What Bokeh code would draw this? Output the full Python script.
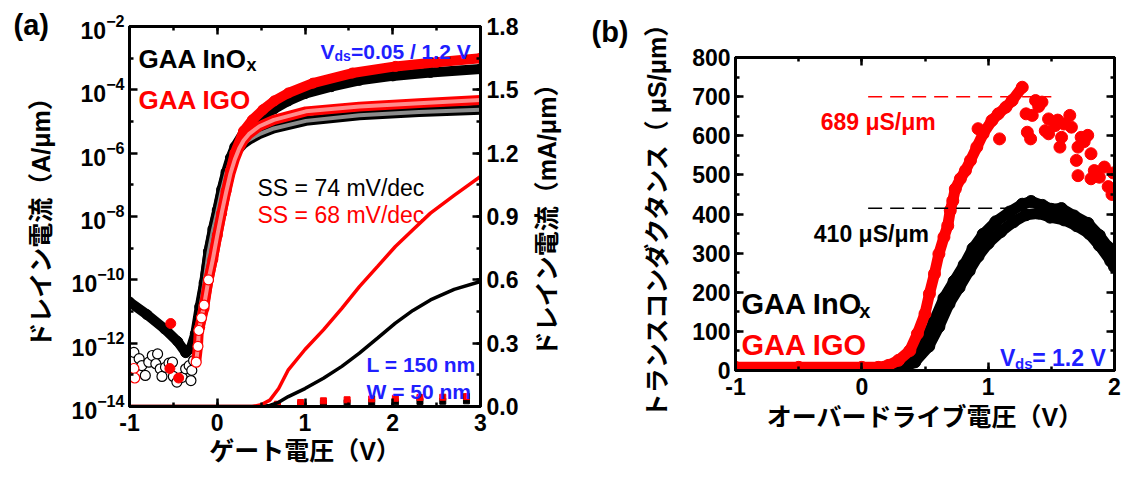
import math
from bokeh.plotting import figure
from bokeh.models import (Range1d, LinearAxis, FixedTicker, SingleIntervalTicker, Label,
                          PrintfTickFormatter, LinearScale, CustomJSTickFormatter)
from bokeh.layouts import row
from bokeh.embed import file_html
from bokeh.resources import INLINE

LAT = "Liberation Sans"
TITLE_FONT = "Liberation Sans, Noto Sans CJK JP"
RED = "#ff0000"
BLUE = "#1f1fff"

# ---------------- panel (a): transfer curves ----------------
# log10 of drain current (A/um) vs gate voltage (V)
# GAA IGO, Vds = 1.2 V (filled red)
vg_igo_hi = [-0.2, -0.15, -0.1, -0.05, 0.0, 0.05, 0.1, 0.15, 0.2, 0.3, 0.4, 0.52, 0.65, 0.81, 1.09, 1.54, 2.03, 2.5, 3.0]
lg_igo_hi = [-11.5, -10.9, -10.0, -9.35, -8.6, -7.9, -7.2, -6.55, -6.0, -5.3, -4.95, -4.63, -4.35, -4.1, -3.79, -3.47, -3.26, -3.13, -3.0]
vg_igo_hi_noise = [-0.54, -0.53, -0.44]
lg_igo_hi_noise = [-12.8, -11.38, -13.1]
# GAA InOx, Vds = 1.2 V (filled black)
vg_inox_hi = [-1.0, -0.8, -0.6, -0.45, -0.36, -0.3, -0.25, -0.2, -0.15, -0.1, -0.05, 0.0, 0.05, 0.1, 0.15, 0.2,
              0.3, 0.4, 0.52, 0.65, 0.81, 1.0, 1.3, 1.62, 2.0, 2.43, 3.0]
lg_inox_hi = [-10.7, -11.1, -11.55, -11.95, -12.3, -12.15, -11.7, -10.85, -10.1, -9.1, -8.4, -7.8, -7.15, -6.6, -6.15,
              -5.8, -5.35, -5.05, -4.8, -4.6, -4.35, -4.12, -3.9, -3.7, -3.56, -3.45, -3.34]
# GAA IGO, Vds = 0.05 V (open red)
vg_igo_lo = [-0.24, -0.22, -0.21, -0.18, -0.15, -0.1, -0.05, 0.0, 0.05, 0.1, 0.15, 0.2, 0.25, 0.3, 0.36, 0.48,
             0.645, 1.01, 1.62, 2.3, 3.0]
lg_igo_lo = [-12.6, -12.1, -11.6, -11.2, -10.8, -10.0, -9.35, -8.6, -7.9, -7.25, -6.65, -6.2, -5.85, -5.6, -5.4,
             -5.15, -4.95, -4.68, -4.53, -4.42, -4.32]
vg_igo_lo_noise = [-0.95, -0.94]
lg_igo_lo_noise = [-12.8, -13.1]
# GAA InOx, Vds = 0.05 V (open black)
vg_inox_lo = [-0.25, -0.2, -0.15, -0.1, -0.05, 0.0, 0.05, 0.1, 0.15, 0.2, 0.25, 0.3, 0.36, 0.48, 0.645, 1.01,
              1.62, 2.3, 3.0]
lg_inox_lo = [-12.2, -11.0, -10.15, -9.15, -8.45, -7.85, -7.2, -6.65, -6.25, -5.95, -5.85, -5.7, -5.58, -5.4,
              -5.22, -4.98, -4.8, -4.7, -4.63]
vg_inox_lo_noise = [-0.95, -0.89, -0.86, -0.82, -0.78, -0.74, -0.68, -0.70, -0.65, -0.63, -0.59, -0.55, -0.51,
                    -0.50, -0.46, -0.40, -0.36, -0.32, -0.30, -0.29, -0.27]
lg_inox_lo_noise = [-12.29, -12.49, -12.71, -13.02, -12.6, -12.39, -12.34, -12.65, -12.81, -13.05, -12.76, -12.63,
                    -12.6, -13.05, -13.23, -13.08, -12.81, -12.71, -13.18, -12.86, -12.55]

# linear drain current (mA/um), right axis
vg_lin_igo = [-1.0, 0.4, 0.5, 0.6, 0.7, 0.81, 1.0, 1.21, 1.42, 1.62, 1.83, 2.03, 2.23, 2.43, 2.7, 3.0]
id_lin_igo = [0.0, 0.0, 0.008, 0.03, 0.085, 0.174, 0.27, 0.363, 0.465, 0.568, 0.665, 0.758, 0.837, 0.916, 1.0, 1.09]
vg_lin_inox = [-1.0, 0.5, 0.6, 0.7, 0.81, 1.0, 1.21, 1.42, 1.62, 1.83, 2.03, 2.23, 2.43, 2.7, 3.0]
id_lin_inox = [0.0, 0.0, 0.005, 0.02, 0.047, 0.085, 0.134, 0.19, 0.253, 0.325, 0.395, 0.455, 0.505, 0.555, 0.592]
vg_lin_lo = [0.685, 0.95, 1.21, 1.48, 1.76, 2.03, 2.31, 2.57, 2.84]
id_lin_lo_igo = [0.011, 0.019, 0.027, 0.032, 0.036, 0.039, 0.043, 0.044, 0.047]
id_lin_lo_inox = [0.006, 0.010, 0.015, 0.018, 0.020, 0.022, 0.024, 0.025, 0.027]

log_major_exps = [-14, -12, -10, -8, -6, -4, -2]
log_minor_exps = [-13, -11, -9, -7, -5, -3]

# ---------------- panel (b): transconductance ----------------
vov_igo = [-1.0, -0.5, 0.0, 0.13, 0.21, 0.29, 0.38, 0.44, 0.50, 0.535, 0.575, 0.61, 0.65, 0.68, 0.70, 0.72,
           0.74, 0.78, 0.82, 0.86, 0.91, 0.96, 1.03, 1.08, 1.14, 1.19, 1.27]
gm_igo = [8, 8, 8, 8, 13, 26, 51, 94, 145, 196, 247, 298, 341, 370, 409, 434, 464, 490, 511, 537, 571, 605,
          639, 656, 673, 690, 724]
vov_igo_sc = [0.92, 1.09, 1.30, 1.31, 1.336, 1.349, 1.375, 1.40, 1.426, 1.452, 1.478, 1.478, 1.53, 1.55, 1.568,
              1.581, 1.60, 1.646, 1.659, 1.698, 1.711, 1.711, 1.736, 1.76, 1.788, 1.814, 1.814, 1.84, 1.88, 1.92,
              1.95, 1.98, 1.99]
gm_igo_sc = [618, 592, 656, 609, 592, 652, 690, 675, 686, 613, 643, 605, 626, 640, 571, 596, 630, 652, 622, 537,
             571, 498, 596, 585, 601, 554, 490, 511, 494, 520, 470, 450, 505]
vov_inox_a = [0.26, 0.39, 0.50, 0.57, 0.65, 0.73, 0.81, 0.88, 0.96, 1.06, 1.17, 1.27, 1.34, 1.43, 1.50, 1.58,
              1.68, 1.79, 1.88, 1.95, 2.0]
gm_inox_a = [0, 30, 75, 125, 185, 228, 270, 312, 348, 380, 405, 425, 432, 422, 412, 414, 395, 376, 345, 315, 300]
vov_inox_b = [0.29, 0.42, 0.53, 0.61, 0.69, 0.77, 0.85, 0.92, 1.0, 1.1, 1.2, 1.3, 1.4, 1.49, 1.6, 1.7, 1.8,
              1.88, 1.97, 2.0]
gm_inox_b = [0, 22, 62, 112, 170, 212, 255, 292, 325, 355, 380, 398, 402, 392, 385, 370, 350, 320, 280, 265]
peak_line_igo_x = [0.05, 1.5]
peak_line_igo_y = [700, 700]
peak_line_inox_x = [0.05, 1.25]
peak_line_inox_y = [415, 415]


def style_axis(ax, tick_size="23px"):
    ax.major_label_text_font = LAT
    ax.major_label_text_font_size = tick_size
    ax.major_label_text_font_style = "bold"
    ax.major_label_text_color = "black"
    ax.axis_line_width = 3
    ax.axis_line_color = "black"
    ax.major_tick_line_width = 2.5
    ax.minor_tick_line_width = 2.5
    ax.major_tick_line_color = "black"
    ax.minor_tick_line_color = "black"
    ax.major_tick_in = 8
    ax.major_tick_out = 0
    ax.minor_tick_in = 4
    ax.minor_tick_out = 0
    ax.axis_label_text_font = TITLE_FONT
    ax.axis_label_text_font_size = "25px"
    ax.axis_label_text_font_style = "bold"
    ax.axis_label_text_color = "black"


def hide_labels(ax):
    ax.formatter = CustomJSTickFormatter(code="return ''")
    ax.major_label_text_font_size = "1px"
    ax.major_label_text_alpha = 0
    ax.major_label_standoff = 0
    ax.axis_label = None


def txt(p, x, y, text, size, color="black", bold=True, font=LAT, rng=None):
    kw = {}
    if rng is not None:
        kw["y_range_name"] = rng
    p.add_layout(Label(x=x, y=y, text=text, text_font=font, text_font_size=f"{size}px", text_color=color,
                       text_font_style="bold" if bold else "normal",
                       text_align="left", text_baseline="alphabetic", **kw))


def panel_tag(p, text, offset, standoff):
    p.title.text = text
    p.title.align = "left"
    p.title.offset = offset
    p.title.standoff = standoff
    p.title.text_font = LAT
    p.title.text_font_size = "29px"
    p.title.text_font_style = "bold"
    p.title.text_color = "black"


# ================= figure (a) =================
pa = figure(width=529, height=478, x_range=Range1d(-1, 3), y_range=Range1d(1e-14, 1e-2),
            y_axis_type="log", output_backend="svg", toolbar_location=None,
            min_border_left=129, min_border_right=49, min_border_top=26, min_border_bottom=72)
pa.extra_y_ranges = {"lin": Range1d(0, 1.8)}
pa.extra_y_scales = {"lin": LinearScale()}
pa.grid.visible = False
pa.outline_line_color = "black"
pa.outline_line_width = 3
pa.outline_line_alpha = 1.0

pa.xaxis.ticker = SingleIntervalTicker(interval=1, num_minor_ticks=2)
pa.xaxis.formatter = PrintfTickFormatter(format="%d")
pa.yaxis.ticker = FixedTicker(ticks=[10.0 ** e for e in log_major_exps],
                              minor_ticks=[10.0 ** e for e in log_minor_exps])
pa.xaxis.axis_label = "ゲート電圧（V）"
pa.yaxis.axis_label = "ドレイン電流（A/μm）"
for ax in pa.xaxis + pa.yaxis:
    style_axis(ax)
pa.yaxis.major_label_standoff = 5
pa.yaxis.axis_label_standoff = 14
pa.xaxis.major_label_standoff = 7
pa.xaxis.axis_label_standoff = 3

ra = LinearAxis(y_range_name="lin", ticker=SingleIntervalTicker(interval=0.3, num_minor_ticks=2),
                formatter=PrintfTickFormatter(format="%.1f"))
style_axis(ra)
ra.major_label_standoff = 6
pa.add_layout(ra, "right")

ta = LinearAxis(ticker=SingleIntervalTicker(interval=1, num_minor_ticks=2))
style_axis(ta)
hide_labels(ta)
pa.add_layout(ta, "above")
panel_tag(pa, "(a)", -116, -28)

pw = lambda arr: [10.0 ** v for v in arr]

# filled black (InOx, 1.2 V)
pa.line(vg_inox_hi, pw(lg_inox_hi), line_color="black", line_width=10, line_join="round", line_cap="round")
pa.scatter(vg_inox_hi, pw(lg_inox_hi), marker="circle", size=10, color="black")
# open black (InOx, 0.05 V)
pa.scatter(vg_inox_lo_noise, pw(lg_inox_lo_noise), marker="circle", size=10, fill_color="white",
           line_color="black", line_width=1.2)
pa.line(vg_inox_lo, pw(lg_inox_lo), line_color="black", line_width=10, line_join="round", line_cap="round")
pa.line(vg_inox_lo, pw(lg_inox_lo), line_color="white", line_width=4, line_alpha=0.55, line_join="round")
# filled red (IGO, 1.2 V)
pa.scatter(vg_igo_hi_noise, pw(lg_igo_hi_noise), marker="circle", size=10, color=RED)
pa.line(vg_igo_hi, pw(lg_igo_hi), line_color=RED, line_width=10, line_join="round", line_cap="round")
pa.scatter(vg_igo_hi, pw(lg_igo_hi), marker="circle", size=10, color=RED)
# open red (IGO, 0.05 V)
pa.scatter(vg_igo_lo_noise, pw(lg_igo_lo_noise), marker="circle", size=10, fill_color="white",
           line_color=RED, line_width=1.2)
pa.line(vg_igo_lo, pw(lg_igo_lo), line_color=RED, line_width=10, line_join="round", line_cap="round")
pa.line(vg_igo_lo, pw(lg_igo_lo), line_color="white", line_width=4, line_alpha=0.55, line_join="round")
pa.scatter(vg_igo_lo[:6], pw(lg_igo_lo[:6]), marker="circle", size=10, fill_color="white",
           line_color=RED, line_width=1.2)

# linear curves (right axis)
pa.scatter(vg_lin_lo, id_lin_lo_inox, y_range_name="lin", marker="square", size=6, color="black")
pa.scatter(vg_lin_lo, id_lin_lo_igo, y_range_name="lin", marker="square", size=6, color=RED)
pa.line(vg_lin_inox, id_lin_inox, y_range_name="lin", line_color="black", line_width=3.5)
pa.line(vg_lin_igo, id_lin_igo, y_range_name="lin", line_color=RED, line_width=3.5)

# annotations (a)
txt(pa, -0.897, 1.648, "GAA InO", 26, rng="lin")
txt(pa, 0.333, 1.620, "x", 18, rng="lin")
txt(pa, -0.897, 1.454, "GAA IGO", 26, color=RED, rng="lin")
txt(pa, 1.177, 1.682, "V", 21, color=BLUE, rng="lin")
txt(pa, 1.336, 1.658, "ds", 14, color=BLUE, rng="lin")
txt(pa, 1.524, 1.682, "=0.05 / 1.2 V", 21, color=BLUE, rng="lin")
txt(pa, 0.459, 1.033, "SS = 74 mV/dec", 23, bold=False, rng="lin")
txt(pa, 0.459, 0.909, "SS = 68 mV/dec", 23, color=RED, bold=False, rng="lin")
txt(pa, 1.701, 0.199, "L = 150 nm", 21, color=BLUE, rng="lin")
txt(pa, 1.701, 0.071, "W = 50 nm", 21, color=BLUE, rng="lin")

# ================= figure (b) =================
pb = figure(width=598, height=478, x_range=Range1d(-1, 2), y_range=Range1d(0, 800),
            output_backend="svg", toolbar_location=None,
            min_border_left=198, min_border_right=13, min_border_top=57, min_border_bottom=108)
pb.grid.visible = False
pb.outline_line_color = "black"
pb.outline_line_width = 3
pb.outline_line_alpha = 1.0
pb.xaxis.ticker = SingleIntervalTicker(interval=1, num_minor_ticks=2)
pb.xaxis.formatter = PrintfTickFormatter(format="%d")
pb.yaxis.ticker = SingleIntervalTicker(interval=100, num_minor_ticks=2)
pb.yaxis.formatter = PrintfTickFormatter(format="%d")
pb.xaxis.axis_label = "オーバードライブ電圧（V）"
pb.yaxis.axis_label = "トランスコンダクタンス（ μS/μm）"
for ax in pb.xaxis + pb.yaxis:
    style_axis(ax)
pb.yaxis.major_label_standoff = 5
pb.yaxis.axis_label_standoff = 18
pb.xaxis.major_label_standoff = 7
pb.xaxis.axis_label_standoff = 5

# title of the right-hand (linear) axis of panel (a); it sits in the gap between the panels
ra_title = LinearAxis(ticker=FixedTicker(ticks=[]), axis_label="ドレイン電流（mA/μm）")
style_axis(ra_title)
ra_title.major_label_text_font_size = "1px"
ra_title.major_label_standoff = 0
ra_title.axis_line_color = None
ra_title.major_tick_line_color = None
ra_title.minor_tick_line_color = None
ra_title.axis_label_standoff = 80
pb.add_layout(ra_title, "left")

tb = LinearAxis(ticker=SingleIntervalTicker(interval=1, num_minor_ticks=2))
style_axis(tb)
hide_labels(tb)
pb.add_layout(tb, "above")
rb = LinearAxis(ticker=SingleIntervalTicker(interval=100, num_minor_ticks=2))
style_axis(rb)
hide_labels(rb)
pb.add_layout(rb, "right")
panel_tag(pb, "(b)", -144, 20)

for p in (pa, pb):
    if "frame_align" in p.properties():
        p.frame_align = False

pb.line(vov_inox_b, gm_inox_b, line_color="black", line_width=11, line_join="round", line_cap="round")
pb.scatter(vov_inox_b, gm_inox_b, marker="circle", size=12, color="black")
pb.line(vov_inox_a, gm_inox_a, line_color="black", line_width=11, line_join="round", line_cap="round")
pb.scatter(vov_inox_a, gm_inox_a, marker="circle", size=12, color="black")
pb.line(vov_igo, gm_igo, line_color=RED, line_width=11, line_join="round", line_cap="round")
pb.scatter(vov_igo, gm_igo, marker="circle", size=12, color=RED)
pb.scatter(vov_igo_sc, gm_igo_sc, marker="circle", size=12, color=RED)

pb.line(peak_line_igo_x, peak_line_igo_y, line_color=RED, line_width=1.5, line_dash="14 8")
pb.line(peak_line_inox_x, peak_line_inox_y, line_color="black", line_width=1.5, line_dash="14 8")

txt(pb, -0.326, 634, "689 μS/μm", 23, color=RED)
txt(pb, -0.380, 350, "410 μS/μm", 23)
txt(pb, -0.953, 171, "GAA InO", 29)
txt(pb, -0.02, 151, "x", 20)
txt(pb, -0.953, 64, "GAA IGO", 29, color=RED)
txt(pb, 1.093, 33, "V", 23, color=BLUE)
txt(pb, 1.213, 18, "ds", 15, color=BLUE)
txt(pb, 1.349, 33, " = 1.2 V", 23, color=BLUE)

layout = row(pa, pb)
open("out.html", "w").write(file_html(layout, INLINE))
